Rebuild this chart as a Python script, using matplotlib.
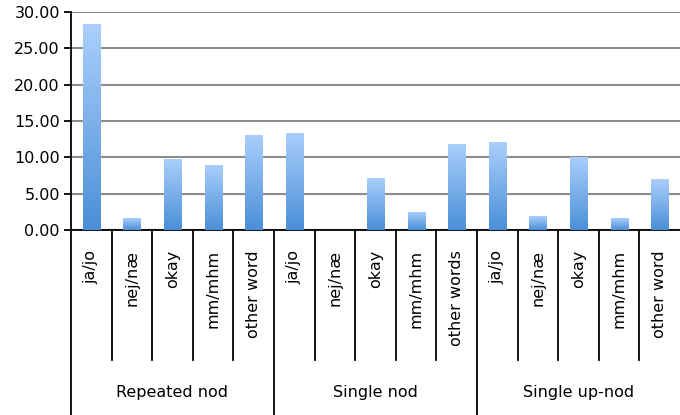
import numpy as np
import matplotlib.pyplot as plt
from matplotlib.colors import LinearSegmentedColormap
import matplotlib.transforms as mtransforms

# Data
groups = ["Repeated nod", "Single nod", "Single up-nod"]
words_repeated = ["ja/jo", "nej/næ", "okay", "mm/mhm", "other word"]
words_single = ["ja/jo", "nej/næ", "okay", "mm/mhm", "other words"]
words_up = ["ja/jo", "nej/næ", "okay", "mm/mhm", "other word"]
repeated_nod = [28.3, 1.65, 9.8, 8.95, 13.1]
single_nod = [13.35, 0.05, 7.15, 2.5, 11.85]
single_up_nod = [12.1, 1.9, 10.1, 1.6, 6.95]

labels = words_repeated + words_single + words_up
values = repeated_nod + single_nod + single_up_nod
x = np.arange(len(values))

plt.rcParams['font.family'] = ['DejaVu Sans']

fig = plt.figure(figsize=(6.8, 4.15), dpi=100)
ax = fig.add_axes([71 / 680, 1 - 230 / 415, 1 - 71 / 680, 218 / 415])

bars = ax.bar(x, values, width=0.42, color='none', edgecolor='none', zorder=3)

# vertical gradient fill, light on top, darker at the bottom
cmap = LinearSegmentedColormap.from_list("bar", ["#4a8fd8", "#abcffc"])
grad = np.linspace(1, 0, 256).reshape(-1, 1)
for b in bars:
    x0 = b.get_x()
    im = ax.imshow(grad, extent=[x0, x0 + b.get_width(), 0, b.get_height()],
                   cmap=cmap, aspect='auto', zorder=3, interpolation='bilinear')
    im.set_clip_path(b)

ax.set_xlim(-0.5, len(values) - 0.5)
ax.set_ylim(0, 30)
ax.set_yticks(range(0, 31, 5))
ax.set_yticklabels([f"{v:.2f}" for v in range(0, 31, 5)], fontsize=11.5)
ax.tick_params(axis='y', direction='out', length=5, width=1.3, color='black', pad=3)
ax.set_xticks([])
ax.yaxis.grid(True, color='#8c8c8c', linewidth=1.5)
ax.set_axisbelow(True)

for s in ['top', 'right']:
    ax.spines[s].set_visible(False)
ax.spines['left'].set_linewidth(1.3)
ax.spines['bottom'].set_linewidth(1.3)

# multi-level category axis
trans = mtransforms.blended_transform_factory(ax.transData, ax.transAxes)
h = 218.0
for i in range(1, len(values)):
    bottom = -185 / h if i % 5 == 0 else -130 / h
    ax.plot([i - 0.5, i - 0.5], [0, bottom], color='black', lw=1.3,
            transform=trans, clip_on=False)
ax.plot([-0.5, -0.5], [0, -190 / h], color='black', lw=1.3,
        transform=trans, clip_on=False)

for xi, lab in zip(x, labels):
    ax.text(xi, -20 / h, lab, rotation=90, ha='center', va='top',
            fontsize=11.5, transform=trans)

for g, name in enumerate(groups):
    ax.text(g * 5 + 2, -163 / h, name, ha='center', va='center',
            fontsize=11.5, transform=trans)

fig.savefig("out.png", dpi=100)
